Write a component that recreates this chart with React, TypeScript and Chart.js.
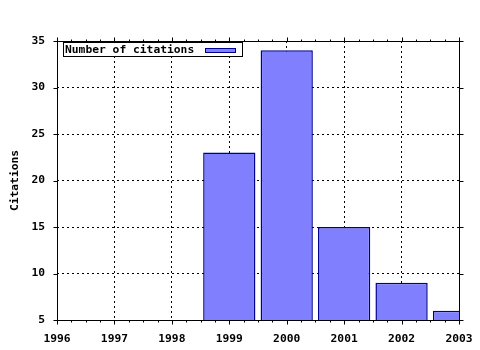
import React, { useEffect, useRef } from "react";
import { Chart, registerables } from "chart.js";

Chart.register(...registerables);

const years = [1999, 2000, 2001, 2002, 2003];
const citations = [23, 34, 15, 9, 6];
const seriesLabel = "Number of citations";
const xMin = 1996;
const xMax = 2003;
const yMin = 5;
const yMax = 35;
const yStep = 5;
const yTitle = "Citations";

const FONT = "'DejaVu Sans Mono', monospace";
const FONT_SIZE = 11.3;
const BAR_FILL = "#8080ff";
const BAR_EDGE = "#000090";

const framePlugin = {
  id: "gnuFrame",
  afterDraw(chart: any) {
    const { ctx, chartArea: a, scales } = chart;
    const xs = scales.x;
    const ys = scales.y;
    const L = Math.floor(a.left) + 0.5;
    const R = Math.floor(a.right) + 0.5;
    const T = Math.floor(a.top) + 0.5;
    const B = Math.floor(a.bottom) + 0.5;
    ctx.save();
    ctx.setLineDash([]);
    ctx.strokeStyle = "#000";
    ctx.lineWidth = 1;
    ctx.strokeRect(L, T, R - L, B - T);
    ctx.beginPath();
    for (let v = xMin; v <= xMax + 1e-9; v += 0.25) {
      const major = Math.abs(v - Math.round(v)) < 1e-6;
      const len = major ? 4 : 2;
      const px = Math.round(xs.getPixelForValue(v)) + 0.5;
      ctx.moveTo(px, B);
      ctx.lineTo(px, B + len);
      ctx.moveTo(px, T);
      ctx.lineTo(px, T - len);
    }
    for (let v = yMin; v <= yMax + 1e-9; v += yStep) {
      const py = Math.round(ys.getPixelForValue(v)) + 0.5;
      ctx.moveTo(L, py);
      ctx.lineTo(L - 4, py);
      ctx.moveTo(R, py);
      ctx.lineTo(R + 4, py);
    }
    ctx.stroke();

    // key box
    const ds = chart.data.datasets[0];
    ctx.font = `bold ${FONT_SIZE}px ${FONT}`;
    const textW = ctx.measureText(ds.label).width;
    const bx = Math.floor(a.left) + 6.5;
    const by = Math.floor(a.top) + 1.5;
    const tx = bx + 1.5;
    const bw = Math.round(textW + 1.5 + 11 + 31 + 6);
    const bh = 14;
    ctx.fillStyle = "#fff";
    ctx.fillRect(bx, by, bw, bh);
    ctx.strokeStyle = "#000";
    ctx.strokeRect(bx, by, bw, bh);
    ctx.fillStyle = "#000";
    ctx.textBaseline = "middle";
    ctx.textAlign = "left";
    ctx.fillText(ds.label, tx, by + 8);
    const sx = Math.round(tx + textW + 11) + 0.5;
    const sy = by + 6;
    ctx.fillStyle = ds.backgroundColor;
    ctx.fillRect(sx, sy, 30, 4);
    ctx.strokeStyle = ds.borderColor;
    ctx.lineWidth = 1;
    ctx.strokeRect(sx, sy, 30, 4);
    ctx.restore();
  },
};

export default function App() {
  const ref = useRef<HTMLCanvasElement | null>(null);

  useEffect(() => {
    if (!ref.current) return;
    const chart = new Chart(ref.current, {
      type: "bar",
      data: {
        datasets: [
          {
            label: seriesLabel,
            data: years.map((y, i) => ({ x: y, y: citations[i] })),
            backgroundColor: BAR_FILL,
            borderColor: BAR_EDGE,
            borderWidth: 1.5,
            borderSkipped: false,
            categoryPercentage: 1,
            barPercentage: 0.91,
            clip: 0,
          } as any,
        ],
      },
      options: {
        responsive: false,
        animation: false,
        layout: { padding: { top: 41, right: 21, left: 0, bottom: 0 } },
        plugins: {
          legend: { display: false },
          tooltip: { enabled: false },
        },
        scales: {
          x: {
            type: "linear",
            min: xMin,
            max: xMax,
            offset: false,
            afterFit: (s: any) => {
              s.height = 30;
              s.paddingLeft = 0;
              s.paddingRight = 0;
            },
            grid: {
              offset: false,
              color: "#000",
              lineWidth: 1,
              drawTicks: false,
            },
            border: { display: false, dash: [2, 3] },
            ticks: {
              stepSize: 1,
              autoSkip: false,
              maxRotation: 0,
              padding: 12,
              color: "#000",
              font: { family: FONT, size: FONT_SIZE, weight: "bold" },
              callback: (v: any) => String(v),
            },
          },
          y: {
            type: "linear",
            min: yMin,
            max: yMax,
            afterFit: (s: any) => {
              s.width = 57;
              s.paddingTop = 0;
              s.paddingBottom = 0;
            },
            grid: {
              color: "#000",
              lineWidth: 1,
              drawTicks: false,
            },
            border: { display: false, dash: [2, 3] },
            ticks: {
              stepSize: yStep,
              padding: 12,
              color: "#000",
              font: { family: FONT, size: FONT_SIZE, weight: "bold" },
            },
            title: {
              display: true,
              text: yTitle,
              color: "#000",
              padding: { top: 8, bottom: 0 },
              font: { family: FONT, size: FONT_SIZE, weight: "bold" },
            },
          },
        },
      },
      plugins: [framePlugin],
    } as any);
    return () => chart.destroy();
  }, []);

  return (
    <div style={{ position: "fixed", left: 0, top: 0, width: 480, height: 350, background: "#fff" }}>
      <canvas ref={ref} width={480} height={350} style={{ display: "block" }} />
    </div>
  );
}
